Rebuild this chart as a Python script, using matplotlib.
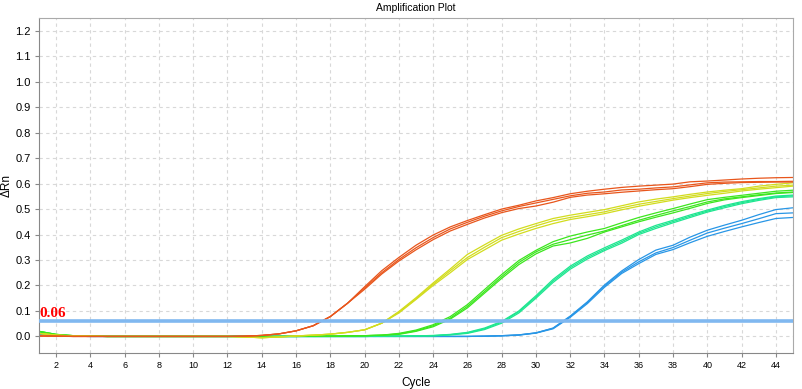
import matplotlib
matplotlib.use("Agg")
import matplotlib.pyplot as plt
import numpy as np

cycles = list(range(1, 46))

base_o = [0.002, 0.001, 0.0, 0.0, 0.0, 0.0, 0.0, 0.0, 0.0, 0.0, 0.0, 0.0, 0.001,
          0.004, 0.010, 0.022, 0.042, 0.078, 0.130]
orange_1 = base_o + [0.195, 0.258, 0.310, 0.358, 0.398, 0.430, 0.455, 0.478, 0.500, 0.515, 0.532,
                     0.545, 0.560, 0.570, 0.578, 0.585, 0.590, 0.594, 0.598, 0.607, 0.610, 0.614,
                     0.618, 0.621, 0.623, 0.624]
orange_2 = base_o + [0.190, 0.250, 0.302, 0.348, 0.388, 0.422, 0.448, 0.472, 0.493, 0.510, 0.524,
                     0.538, 0.552, 0.562, 0.567, 0.575, 0.578, 0.583, 0.587, 0.595, 0.603, 0.606,
                     0.607, 0.608, 0.608, 0.609]
orange_3 = base_o + [0.185, 0.245, 0.296, 0.340, 0.380, 0.414, 0.440, 0.465, 0.486, 0.502, 0.512,
                     0.527, 0.546, 0.555, 0.560, 0.566, 0.571, 0.576, 0.580, 0.588, 0.597, 0.601,
                     0.604, 0.605, 0.606, 0.606]

base_y = [0.012, 0.005, 0.002, 0.001, 0.0, 0.0, 0.0, 0.0, 0.0, 0.0, 0.0, 0.0, -0.002,
          -0.005, -0.002, 0.002, 0.005, 0.009, 0.016, 0.026, 0.052]
yellow_1 = base_y + [0.098, 0.152, 0.210, 0.265, 0.322, 0.360, 0.397, 0.422, 0.443, 0.463, 0.476,
                     0.487, 0.498, 0.513, 0.528, 0.539, 0.548, 0.558, 0.567, 0.574, 0.580, 0.590,
                     0.597, 0.603]
yellow_2 = base_y + [0.095, 0.148, 0.205, 0.258, 0.310, 0.350, 0.388, 0.412, 0.434, 0.454, 0.467,
                     0.478, 0.489, 0.505, 0.519, 0.530, 0.541, 0.551, 0.561, 0.569, 0.576, 0.583,
                     0.590, 0.594]
yellow_3 = base_y + [0.092, 0.145, 0.200, 0.250, 0.302, 0.340, 0.378, 0.402, 0.424, 0.443, 0.459,
                     0.470, 0.482, 0.497, 0.511, 0.523, 0.535, 0.545, 0.554, 0.562, 0.571, 0.578,
                     0.584, 0.590]

base_g = [0.020, 0.008, 0.003, 0.001, 0.0, 0.0, 0.0, 0.0, 0.0, 0.0, 0.0, 0.0, 0.0,
          0.0, 0.0, 0.0, 0.001, 0.001, 0.002, 0.003, 0.005]
green_1 = base_g + [0.012, 0.025, 0.046, 0.078, 0.125, 0.184, 0.243, 0.298, 0.338, 0.372, 0.394,
                    0.410, 0.424, 0.446, 0.467, 0.485, 0.502, 0.520, 0.537, 0.546, 0.554, 0.562,
                    0.570, 0.574]
green_2 = base_g + [0.010, 0.022, 0.042, 0.072, 0.118, 0.176, 0.235, 0.290, 0.332, 0.362, 0.380,
                    0.398, 0.414, 0.435, 0.456, 0.475, 0.493, 0.510, 0.528, 0.540, 0.548, 0.556,
                    0.563, 0.567]
green_3 = base_g + [0.008, 0.020, 0.038, 0.068, 0.112, 0.170, 0.228, 0.282, 0.324, 0.355, 0.367,
                    0.385, 0.410, 0.430, 0.450, 0.468, 0.485, 0.503, 0.522, 0.536, 0.545, 0.553,
                    0.561, 0.565]

base_t = [0.015, 0.005, 0.002, 0.001, 0.0, 0.0, 0.0, 0.0, 0.0, 0.0, 0.0, 0.0, 0.0,
          0.0, 0.0, 0.0, 0.0, 0.0, 0.0, 0.0, 0.001, 0.001, 0.002]
teal_1 = base_t + [0.004, 0.008, 0.016, 0.033, 0.059, 0.100, 0.160, 0.224, 0.276, 0.316, 0.348,
                   0.378, 0.410, 0.436, 0.456, 0.477, 0.496, 0.514, 0.529, 0.541, 0.551, 0.555]
teal_2 = base_t + [0.003, 0.007, 0.014, 0.030, 0.056, 0.097, 0.155, 0.218, 0.270, 0.310, 0.342,
                   0.372, 0.405, 0.430, 0.451, 0.472, 0.492, 0.510, 0.525, 0.538, 0.548, 0.552]
teal_3 = base_t + [0.002, 0.006, 0.012, 0.027, 0.052, 0.092, 0.150, 0.212, 0.264, 0.304, 0.337,
                   0.366, 0.400, 0.424, 0.446, 0.467, 0.488, 0.505, 0.521, 0.534, 0.545, 0.548]

base_b = [0.010, 0.004, 0.001, 0.0, 0.0, 0.0, 0.0, 0.0, 0.0, 0.0, 0.0, 0.0, 0.0,
          0.0, 0.0, 0.0, 0.0, 0.0, 0.0, 0.0, 0.0, 0.0, 0.0, 0.0, 0.0, 0.0, 0.001]
blue_1 = base_b + [0.003, 0.006, 0.014, 0.033, 0.080, 0.136, 0.202, 0.257, 0.302, 0.339, 0.358,
                   0.390, 0.417, 0.437, 0.456, 0.478, 0.498, 0.505]
blue_2 = base_b + [0.003, 0.006, 0.014, 0.032, 0.078, 0.133, 0.198, 0.252, 0.293, 0.328, 0.349,
                   0.378, 0.406, 0.425, 0.443, 0.462, 0.482, 0.485]
blue_3 = base_b + [0.002, 0.005, 0.013, 0.030, 0.075, 0.129, 0.193, 0.247, 0.286, 0.322, 0.341,
                   0.368, 0.393, 0.412, 0.430, 0.447, 0.463, 0.467]

series = [
    (blue_1, "#2896e6"), (blue_2, "#2896e6"), (blue_3, "#2896e6"),
    (teal_1, "#1ee690"), (teal_2, "#1ee690"), (teal_3, "#1ee690"),
    (green_1, "#3ce61e"), (green_2, "#3ce61e"), (green_3, "#3ce61e"),
    (yellow_1, "#d2dc1e"), (yellow_2, "#d2dc1e"), (yellow_3, "#d2dc1e"),
    (orange_1, "#e8561c"), (orange_2, "#e8561c"), (orange_3, "#e8561c"),
]

threshold = 0.06
x_ticks = list(range(2, 45, 2))
y_ticks = [0.0, 0.1, 0.2, 0.3, 0.4, 0.5, 0.6, 0.7, 0.8, 0.9, 1.0, 1.1, 1.2]

plt.rcParams['font.family'] = ['Liberation Sans', 'DejaVu Sans']

fig = plt.figure(figsize=(8.03, 3.89), dpi=100)
ax = fig.add_axes([39 / 803, 36 / 389, 754 / 803, 335 / 389])

for vals, col in series:
    ax.plot(cycles, vals, color=col, lw=0.9, solid_joinstyle='round')

ax.axhline(threshold, color="#80b8f0", lw=2.6, zorder=5)
ax.text(1.0, threshold + 0.003, "0.06", color="red", fontsize=11, fontweight='bold',
        family=['Liberation Serif', 'DejaVu Serif'], va='bottom', ha='left', zorder=6)

ax.set_xlim(1, 45)
ax.set_ylim(-0.065, 1.25)
ax.set_xticks(x_ticks)
ax.set_yticks(y_ticks)
ax.set_yticklabels([f"{v:.1f}" for v in y_ticks])
ax.grid(True, color="#d8d8d8", ls=(0, (3, 3)), lw=0.8)
ax.set_axisbelow(True)

ax.tick_params(axis='x', labelsize=6.5, length=3, color="#888888", pad=3)
ax.tick_params(axis='y', labelsize=8, length=3, color="#888888", pad=3)
for s in ['left', 'bottom']:
    ax.spines[s].set_color("#888888")
for s in ['top', 'right']:
    ax.spines[s].set_color("#aaaaaa")

ax.set_xlabel("Cycle", fontsize=8.5, labelpad=5)
ax.set_ylabel("ΔRn", fontsize=8.5, labelpad=2)
ax.set_title("Amplification Plot", fontsize=7.5, pad=5)

fig.savefig("out.png", dpi=100)
